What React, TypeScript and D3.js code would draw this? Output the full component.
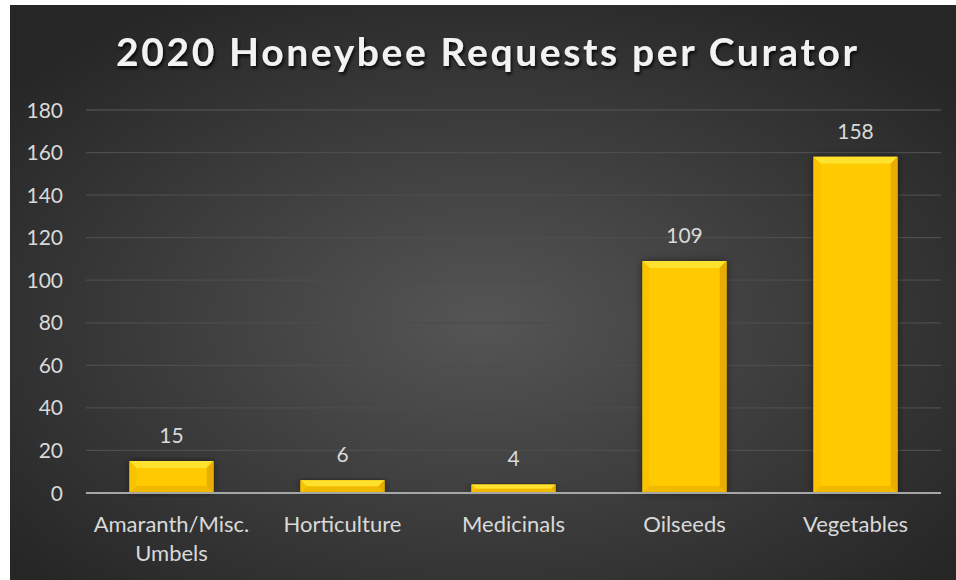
import React from "react";
import * as d3 from "d3";

const categories: string[][] = [
  ["Amaranth/Misc.", "Umbels"],
  ["Horticulture"],
  ["Medicinals"],
  ["Oilseeds"],
  ["Vegetables"],
];
const categoryKeys = ["Amaranth/Misc. Umbels", "Horticulture", "Medicinals", "Oilseeds", "Vegetables"];
const values = [15, 6, 4, 109, 158];
const yTicks = [0, 20, 40, 60, 80, 100, 120, 140, 160, 180];
const title = "2020 Honeybee Requests per Curator";

const W = 956;
const H = 580;
const left = 86;
const right = 941;
const top = 110;
const bottom = 493;

export default function App() {
  const x = d3.scaleBand<string>().domain(categoryKeys).range([left, right]).paddingInner(0.509).paddingOuter(0.2545);
  const y = d3.scaleLinear().domain([0, 180]).range([bottom, top]);
  const font = "Lato, 'Open Sans', sans-serif";

  return (
    <svg width={W} height={H} style={{ position: "absolute", left: 0, top: 0 }}>
      <defs>
        <radialGradient id="bg" cx="50%" cy="55%" r="65%">
          <stop offset="0%" stopColor="#555555" />
          <stop offset="55%" stopColor="#3b3b3b" />
          <stop offset="100%" stopColor="#262626" />
        </radialGradient>
        <filter id="tshadow" x="-5%" y="-30%" width="110%" height="160%">
          <feDropShadow dx="1.5" dy="2.5" stdDeviation="1.5" floodColor="#000" floodOpacity="0.8" />
        </filter>
        <filter id="bshadow" x="-20%" y="-10%" width="140%" height="120%">
          <feDropShadow dx="0" dy="0" stdDeviation="4" floodColor="#000" floodOpacity="0.5" />
        </filter>
      </defs>
      <rect x={0} y={0} width={W} height={H} fill="#ffffff" />
      <rect x={10} y={5} width={W - 10} height={H - 5} fill="url(#bg)" />
      <text
        x={(116 + 857) / 2}
        y={66}
        textAnchor="middle"
        fontFamily={font}
        fontWeight={700}
        fontSize={39}
        fill="#f2f2f2"
        textLength={741}
        lengthAdjust="spacing"
        filter="url(#tshadow)"
      >
        {title}
      </text>
      {yTicks.map((t) => (
        <g key={t}>
          {t !== 0 && (
            <line x1={left} x2={right} y1={y(t)} y2={y(t)} stroke="#4d4d4d" strokeWidth={1.3} />
          )}
          <text
            x={63}
            y={y(t)}
            dy="0.36em"
            textAnchor="end"
            fontFamily={font}
            fontSize={21}
            fill="#d9d9d9"
          >
            {t}
          </text>
        </g>
      ))}
      {categoryKeys.map((k, i) => {
        const v = values[i];
        const x0 = x(k)!;
        const bw = x.bandwidth();
        const x1 = x0 + bw;
        const y0 = y(v);
        const y1 = y(0);
        const h = y1 - y0;
        const b = Math.min(7, h / 2);
        const cx = x0 + bw / 2;
        return (
          <g key={k}>
            <rect x={x0} y={y0} width={bw} height={h} fill="#ffc800" filter="url(#bshadow)" />
            <polygon points={`${x0},${y0} ${x1},${y0} ${x1 - b},${y0 + b} ${x0 + b},${y0 + b}`} fill="#ffe22e" />
            <polygon points={`${x0},${y0} ${x0 + b},${y0 + b} ${x0 + b},${y1 - b} ${x0},${y1}`} fill="#f9c300" />
            <polygon points={`${x1},${y0} ${x1 - b},${y0 + b} ${x1 - b},${y1 - b} ${x1},${y1}`} fill="#e8ad00" />
            <polygon points={`${x0},${y1} ${x0 + b},${y1 - b} ${x1 - b},${y1 - b} ${x1},${y1}`} fill="#f0b800" />
            <rect x={x0 + b} y={y0 + b} width={Math.max(0, bw - 2 * b)} height={Math.max(0, h - 2 * b)} fill="#ffca00" />
            <text
              x={cx}
              y={y0 - 18}
              textAnchor="middle"
              fontFamily={font}
              fontSize={21}
              fill="#d9d9d9"
            >
              {v}
            </text>
            {categories[i].map((line, j) => (
              <text
                key={j}
                x={cx}
                y={532 + j * 29}
                textAnchor="middle"
                fontFamily={font}
                fontSize={22}
                fill="#d9d9d9"
              >
                {line}
              </text>
            ))}
          </g>
        );
      })}
      <line x1={left} x2={right} y1={y(0)} y2={y(0)} stroke="#a6a6a6" strokeWidth={2} />
    </svg>
  );
}
